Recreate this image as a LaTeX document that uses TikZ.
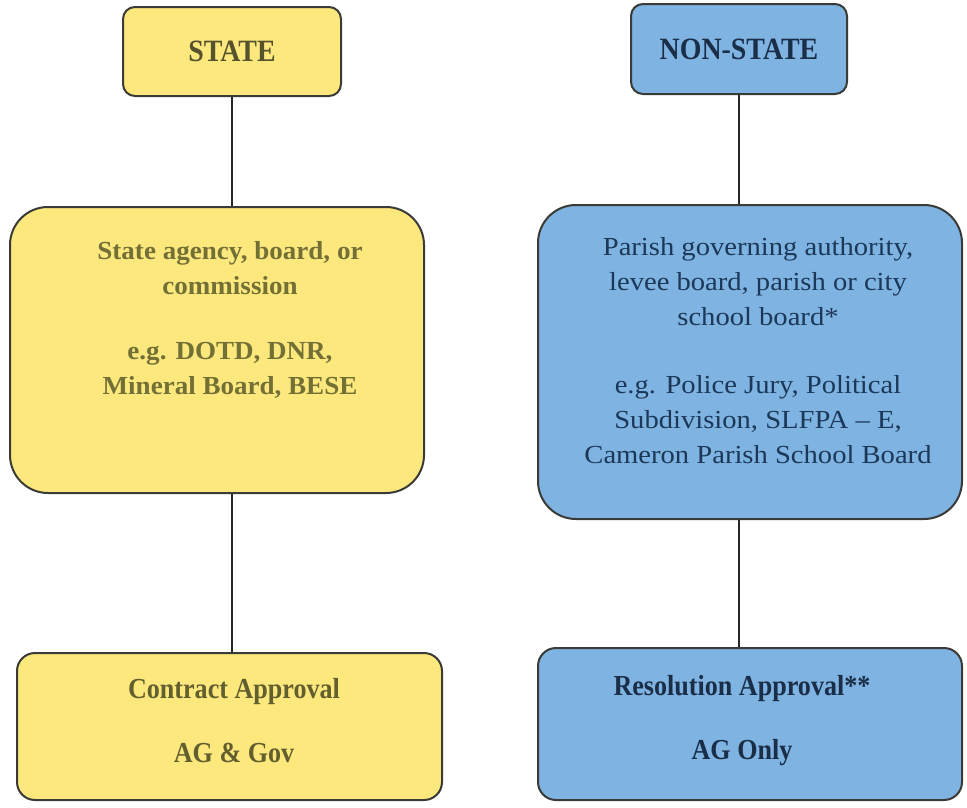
\documentclass[tikz,border=0pt]{standalone}
\usepackage{fontspec}
\setmainfont{Liberation Serif}
\definecolor{yfill}{HTML}{FDE87E}
\definecolor{bfill}{HTML}{7FB3E1}
\definecolor{ytext}{HTML}{737036}
\definecolor{ydark}{HTML}{55522E}
\definecolor{btext}{HTML}{1C3858}
\definecolor{bdark}{HTML}{1A2E48}
\definecolor{edge}{HTML}{3A3A36}
\begin{document}
\begin{tikzpicture}[x=1pt,y=-1pt,
  box/.style={draw=edge, line width=2pt, inner sep=0pt},
  ybox/.style={box, fill=yfill},
  bbox/.style={box, fill=bfill},
  link/.style={draw=black!85, line width=1.4pt},
  txt/.style={align=center, inner sep=0pt},
  headtxt/.style={txt, font=\fontsize{31}{34}\selectfont\bfseries\addfontfeature{FakeStretch=0.9}},
  midtxt/.style={txt, font=\fontsize{26}{35}\selectfont\addfontfeature{FakeStretch=1.1}},
  midbold/.style={txt, font=\fontsize{26}{35}\selectfont\bfseries\addfontfeature{FakeStretch=1.04}},
  bottxt/.style={txt, font=\fontsize{29}{34}\selectfont\bfseries\addfontfeature{FakeStretch=0.9}}]
\useasboundingbox[fill=white] (0,0) rectangle (967,807);

% boxes
\node[ybox, rounded corners=12pt, minimum width=218pt, minimum height=89pt] (topL) at (232,51.5) {};
\node[bbox, rounded corners=12pt, minimum width=216pt, minimum height=90pt] (topR) at (739,49) {};
\node[ybox, rounded corners=38pt, minimum width=414pt, minimum height=286pt] (midL) at (217,350) {};
\node[bbox, rounded corners=38pt, minimum width=424pt, minimum height=314pt] (midR) at (750,362) {};
\node[ybox, rounded corners=18pt, minimum width=425pt, minimum height=147pt] (botL) at (229.5,726.5) {};
\node[bbox, rounded corners=18pt, minimum width=424pt, minimum height=152pt] (botR) at (750,724) {};

% connectors
\draw[link] (topL.south) -- (topL.south |- midL.north);
\draw[link] (topL.south |- midL.south) -- (topL.south |- botL.north);
\draw[link] (topR.south) -- (topR.south |- midR.north);
\draw[link] (topR.south |- midR.south) -- (topR.south |- botR.north);

% texts
\node[headtxt, text=ydark] (tL) at (topL.center) {STATE};
\node[headtxt, text=bdark] (tR) at (topR.center) {NON-STATE};
\node[midbold, text=ytext] (mL) at (230,320) {State agency, board, or\\ commission\\[30pt] e.g. DOTD, DNR,\\ Mineral Board, BESE};
\node[midtxt, text=btext] (mR) at (758,351) {Parish governing authority,\\ levee board, parish or city\\ school board*\\[33pt] e.g. Police Jury, Political\\ Subdivision, SLFPA -- E,\\ Cameron Parish School Board};
\node[bottxt, text=ytext!85!black] (bL) at (234,721) {Contract Approval\\[30pt] AG \& Gov};
\node[bottxt, text=bdark] (bR) at (742,721) {Resolution Approval**\\[30pt] AG Only};
\end{tikzpicture}
\end{document}
